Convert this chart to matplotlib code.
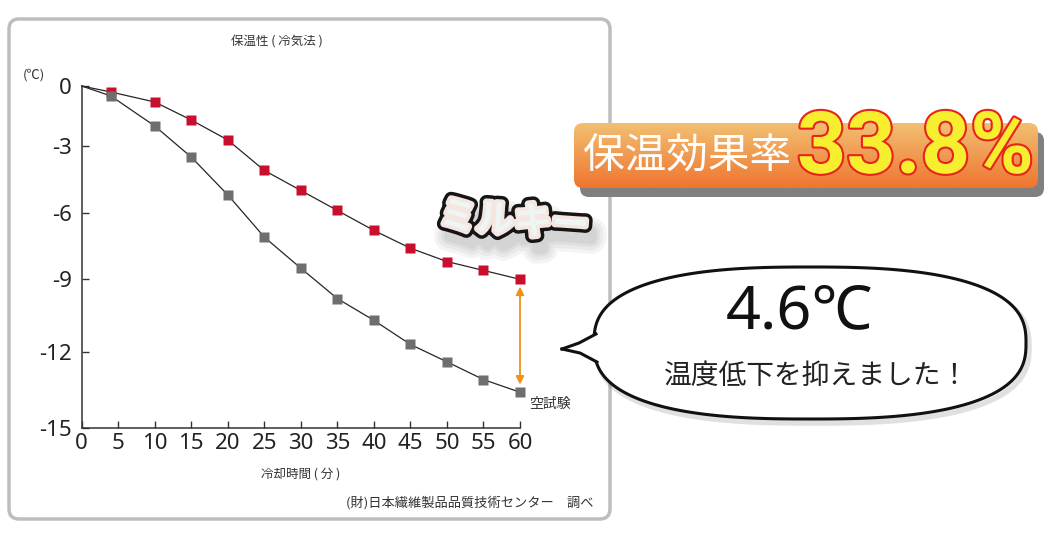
import numpy as np
import matplotlib
matplotlib.use("Agg")
import matplotlib.pyplot as plt
from matplotlib import font_manager
from matplotlib.patches import FancyBboxPatch, Polygon
import matplotlib.patheffects as pe

plt.rcParams['font.family'] = ['Noto Sans CJK JP', 'DejaVu Sans']

# data
time_min = [0, 4, 10, 15, 20, 25, 30, 35, 40, 45, 50, 55, 60]
milky = [0, -0.3, -0.8, -1.7, -2.7, -4.1, -5.0, -5.9, -6.8, -7.6, -8.2, -8.6, -9.0]
blank = [0, -0.5, -2.0, -3.5, -5.2, -7.1, -8.5, -9.8, -10.7, -11.7, -12.4, -13.1, -13.6]
x_ticks = list(range(0, 61, 5))
y_ticks = [-15, -12, -9, -6, -3, 0]
# the printed y axis is not evenly spaced: pixel distance of each tick from the 0 line
y_tick_px = [341.7, 265.7, 193.3, 126.7, 60.0, 0.0]

title = '保温性 ( 冷気法 )'
xlabel = '冷却時間 ( 分 )'
ylabel = '(℃)'
source = '(財)日本繊維製品品質技術センター　調べ'
blank_name = '空試験'
milky_name = 'ミルキー'
effect_label = '保温効果率'
effect_value = '33.8%'
diff_text = '4.6℃'
diff_msg = '温度低下を抑えました！'

red = '#c8102e'
gray = '#6e6e6e'


def fwd(v):
    return -np.interp(v, y_ticks, y_tick_px)


def inv(p):
    return np.interp(-np.asarray(p), y_tick_px[::-1], y_ticks[::-1])


fig = plt.figure(figsize=(10.5, 5.4), dpi=100)

# background layer in pixel coordinates
bg = fig.add_axes([0, 0, 1, 1], zorder=0)
bg.set_axis_off()

panel = FancyBboxPatch((9, 19), 601, 500, boxstyle='round,pad=0,rounding_size=10',
                       fc='white', ec='#bdbdbd', lw=2.5, zorder=0)
bg.add_patch(panel)

bg.text(277, 42, title, ha='center', va='center', fontsize=9, color='#333333')
bg.text(34, 75, ylabel, ha='center', va='center', fontsize=9.5, color='#333333')
bg.text(301, 474, xlabel, ha='center', va='center', fontsize=9, color='#333333')
bg.text(593, 503, source, ha='right', va='center', fontsize=9.5, color='#333333')

# milky label: fat rounded letters, black outline, soft shadow
soft = [pe.Stroke(linewidth=w, foreground='black', alpha=0.045, offset=(4, -9))
        for w in (22, 17, 12, 8)]
rnd = dict(capstyle='round', joinstyle='round')
bg.text(514, 221, milky_name, ha='center', va='center', fontsize=27, fontweight='bold',
        color='#eef6f4', rotation=-4,
        path_effects=soft + [pe.Stroke(linewidth=10, foreground='#151515', **rnd),
                             pe.Stroke(linewidth=5, foreground='#f6e6e2', **rnd),
                             pe.Normal()])

# orange badge
shadow = FancyBboxPatch((580, 132), 464, 65, boxstyle='round,pad=0,rounding_size=9',
                        fc='#808080', ec='none', zorder=2)
bg.add_patch(shadow)
badge = FancyBboxPatch((574, 123), 464, 65, boxstyle='round,pad=0,rounding_size=9',
                       fc='none', ec='none', zorder=3)
bg.add_patch(badge)
top_c = np.array(matplotlib.colors.to_rgb('#f2bf72'))
bot_c = np.array(matplotlib.colors.to_rgb('#ef7530'))
s = np.linspace(0, 1, 64)[:, None, None]
grad = top_c * (1 - s) + bot_c * s
im = bg.imshow(grad, extent=(574, 1038, 188, 123), aspect='auto',
               interpolation='bilinear', zorder=3)
im.set_clip_path(badge)
bg.text(583, 157, effect_label, ha='left', va='center', fontsize=30, color='white', zorder=5)

names = {f.name for f in font_manager.fontManager.ttflist}
if 'Liberation Sans Narrow' in names:
    big_family, big_size = 'Liberation Sans Narrow', 74
else:
    big_family, big_size = 'Roboto', 62
bg.text(797, 173, effect_value, ha='left', va='baseline', fontsize=big_size,
        family=big_family, fontweight='bold', color='#f6ee2e', zorder=6,
        path_effects=[pe.Stroke(linewidth=3, foreground='#e8231c'), pe.Normal()])

# speech bubble
cx, cy, a, b, n = 810, 343, 216, 76, 2.6
t = np.linspace(0, 2 * np.pi, 400)
bx = cx + a * np.sign(np.cos(t)) * np.abs(np.cos(t)) ** (2 / n)
by = cy + b * np.sign(np.sin(t)) * np.abs(np.sin(t)) ** (2 / n)
bg.add_patch(Polygon(np.column_stack([bx + 3, by + 4]), closed=True, fc='none',
                     ec='#000000', lw=4, alpha=0.12, zorder=3))
bg.add_patch(Polygon(np.column_stack([bx, by]), closed=True, fc='white',
                     ec='#111111', lw=2.2, zorder=4))
bg.add_patch(Polygon([(596, 334), (562, 349), (597, 362), (612, 348)], closed=True,
                     fc='white', ec='none', zorder=5))
bg.plot([596, 579, 562], [334, 343, 349], color='#111111', lw=2.2, zorder=6)
bg.plot([562, 580, 597], [349, 353, 362], color='#111111', lw=2.2, zorder=6)
bg.text(799, 313, diff_text, ha='center', va='center', fontsize=44,
        family=['Noto Sans', 'Noto Sans CJK JP', 'DejaVu Sans'], color='#111111', zorder=7)
bg.text(817, 376, diff_msg, ha='center', va='center', fontsize=20, color='#222222', zorder=7)

bg.set_xlim(0, 1050)
bg.set_ylim(540, 0)

# chart
ax = fig.add_axes([81.7 / 1050, 1 - 427.7 / 540, (520 - 81.7) / 1050, (427.7 - 86) / 540], zorder=1)
ax.set_facecolor('none')
ax.set_yscale('function', functions=(fwd, inv))
ax.plot(time_min, milky, color='#262626', lw=0.9, zorder=2, clip_on=False)
ax.plot(time_min, blank, color='#262626', lw=0.9, zorder=2, clip_on=False)
ax.plot(time_min[1:], milky[1:], 's', color=red, ms=7.2, mec='none', zorder=3, clip_on=False)
ax.plot(time_min[1:], blank[1:], 's', color=gray, ms=7.2, mec='none', zorder=3, clip_on=False)

ax.annotate('', xy=(60, -9.3), xytext=(60, -13.3),
            arrowprops=dict(arrowstyle='<|-|>', color='#f0901e', lw=1.3,
                            mutation_scale=12, shrinkA=0, shrinkB=0))
ax.text(61.3, -14.05, blank_name, ha='left', va='center', fontsize=10, color='#333333')

ax.set_xlim(0, 60)
ax.set_ylim(-15, 0)
ax.set_xticks(x_ticks)
ax.set_yticks(y_ticks)
ax.set_xticklabels([str(v) for v in x_ticks], family='Noto Sans', fontsize=16)
ax.set_yticklabels([str(v) for v in y_ticks], family='Noto Sans', fontsize=16)
ax.minorticks_off()
for side in ['top', 'right']:
    ax.spines[side].set_visible(False)
for side in ['left', 'bottom']:
    ax.spines[side].set_color('#333333')
    ax.spines[side].set_linewidth(1.1)
ax.tick_params(direction='in', length=5, width=1, color='#333333', labelcolor='#222222')
ax.tick_params(axis='y', pad=7)
ax.tick_params(axis='x', pad=4)

fig.savefig('out.png', dpi=100)
